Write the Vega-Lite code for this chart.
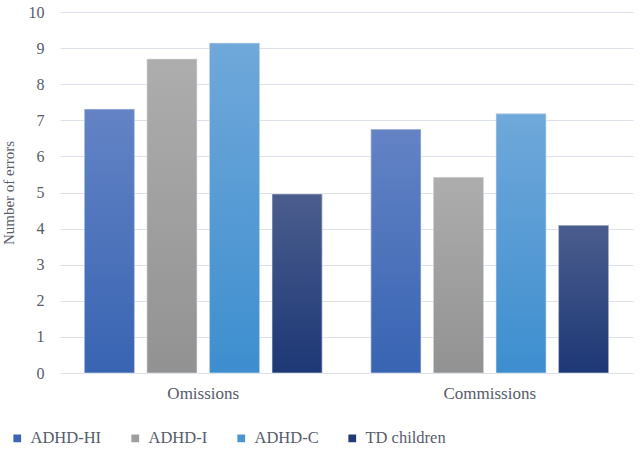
{
  "$schema": "https://vega.github.io/schema/vega-lite/v6.json",
  "width": 573,
  "height": 361,
  "autosize": {"type": "none"},
  "padding": {"left": 60, "top": 12, "right": 10, "bottom": 84},
  "background": "white",
  "data": {"values": [
    {"measure": "Omissions", "group": "ADHD-HI", "errors": 7.31},
    {"measure": "Omissions", "group": "ADHD-I", "errors": 8.70},
    {"measure": "Omissions", "group": "ADHD-C", "errors": 9.14},
    {"measure": "Omissions", "group": "TD children", "errors": 4.96},
    {"measure": "Commissions", "group": "ADHD-HI", "errors": 6.75},
    {"measure": "Commissions", "group": "ADHD-I", "errors": 5.42},
    {"measure": "Commissions", "group": "ADHD-C", "errors": 7.18},
    {"measure": "Commissions", "group": "TD children", "errors": 4.09}
  ]},
  "encoding": {
    "x": {
      "field": "measure", "type": "nominal", "sort": ["Omissions", "Commissions"],
      "scale": {"paddingInner": 0, "paddingOuter": 0},
      "axis": {"title": null, "labelAngle": 0, "domain": false, "ticks": false, "labelPadding": 12,
               "labelFontSize": 17, "labelColor": "#555c6b"}
    },
    "xOffset": {
      "field": "group", "type": "nominal", "sort": ["ADHD-HI", "ADHD-I", "ADHD-C", "TD children"],
      "scale": {"domain": ["ADHD-HI", "ADHD-I", "ADHD-C", "TD children"], "paddingInner": 0.2, "paddingOuter": 0.39}
    },
    "y": {
      "field": "errors", "type": "quantitative",
      "scale": {"domain": [0, 10]},
      "axis": {"title": "Number of errors", "values": [0,1,2,3,4,5,6,7,8,9,10],
               "domain": false, "ticks": false, "labelPadding": 16,
               "gridColor": "#dde2ea", "gridWidth": 1,
               "labelFontSize": 16, "labelColor": "#555c6b",
               "titleFontSize": 15, "titleFontWeight": "normal",
               "titleColor": "#555c6b", "titlePadding": 12}
    }
  },
  "layer": [
    {
      "mark": {"type": "bar"},
      "encoding": {
        "color": {
          "field": "group", "type": "nominal",
          "scale": {
            "domain": ["ADHD-HI", "ADHD-I", "ADHD-C", "TD children"],
            "range": ["#3a66b5", "#9e9e9e", "#4a94d2", "#22397a"]
          },
          "legend": {
            "title": null, "orient": "none", "direction": "horizontal", "columns": 4,
            "legendX": -51, "legendY": 418,
            "symbolType": "square", "symbolSize": 60, "symbolStrokeWidth": 0,
            "labelFontSize": 16.5, "labelColor": "#555c6b",
            "labelOffset": 5, "columnPadding": 25
          }
        }
      }
    },
    {
      "transform": [{"filter": "datum.group === 'ADHD-HI'"}],
      "mark": {"type": "bar", "stroke": "#e4e8ee", "strokeWidth": 0.6,
               "color": {"gradient": "linear", "x1": 0, "y1": 0, "x2": 0, "y2": 1, "stops": [{"offset": 0, "color": "#6383c5"}, {"offset": 1, "color": "#3864b2"}]}}
    },
    {
      "transform": [{"filter": "datum.group === 'ADHD-I'"}],
      "mark": {"type": "bar", "stroke": "#e4e8ee", "strokeWidth": 0.6,
               "color": {"gradient": "linear", "x1": 0, "y1": 0, "x2": 0, "y2": 1, "stops": [{"offset": 0, "color": "#adadad"}, {"offset": 1, "color": "#929292"}]}}
    },
    {
      "transform": [{"filter": "datum.group === 'ADHD-C'"}],
      "mark": {"type": "bar", "stroke": "#e4e8ee", "strokeWidth": 0.6,
               "color": {"gradient": "linear", "x1": 0, "y1": 0, "x2": 0, "y2": 1, "stops": [{"offset": 0, "color": "#70a8da"}, {"offset": 1, "color": "#3d8ecf"}]}}
    },
    {
      "transform": [{"filter": "datum.group === 'TD children'"}],
      "mark": {"type": "bar", "stroke": "#e4e8ee", "strokeWidth": 0.6,
               "color": {"gradient": "linear", "x1": 0, "y1": 0, "x2": 0, "y2": 1, "stops": [{"offset": 0, "color": "#4b5d8d"}, {"offset": 1, "color": "#1d3876"}]}}
    }
  ],
  "config": {"view": {"stroke": null}, "font": "'Times New Roman', 'Liberation Serif', 'DejaVu Serif', serif"}
}
